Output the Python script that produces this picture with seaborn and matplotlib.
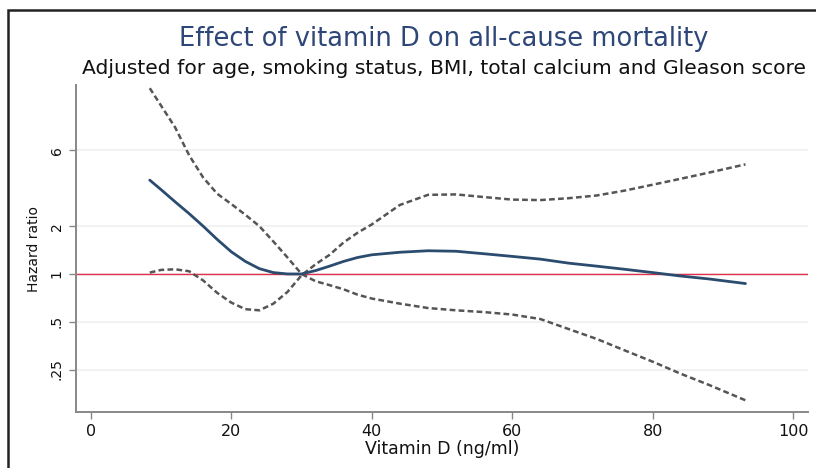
#!/usr/bin/env python3

# Hazard ratio spline for vitamin D with dashed confidence bands, log y axis.

import matplotlib
matplotlib.use('Agg')
import matplotlib.pyplot as plt
from matplotlib.patches import Rectangle
import seaborn as sns

vitamin_d = [8.4, 10, 12, 14, 16, 18, 20, 22, 24, 26, 28, 30, 32, 34, 36,
             38, 40, 44, 48, 52, 56, 60, 64, 68, 72, 76, 80, 84, 88, 93.2]
hazard_ratio = [3.9, 3.4, 2.85, 2.4, 2.0, 1.65, 1.38, 1.2, 1.08, 1.02, 1.0,
                1.0, 1.05, 1.12, 1.2, 1.27, 1.32, 1.37, 1.40, 1.39, 1.34,
                1.29, 1.24, 1.17, 1.12, 1.07, 1.02, 0.97, 0.93, 0.87]
# the two band lines cross at the reference point (30 ng/ml)
band_a = [14.8, 11.5, 8.4, 5.6, 4.05, 3.2, 2.76, 2.36, 2.0, 1.6, 1.27, 1.0,
          0.9, 0.85, 0.8, 0.74, 0.70, 0.65, 0.61, 0.59, 0.575, 0.555, 0.52,
          0.45, 0.39, 0.33, 0.28, 0.235, 0.20, 0.16]
band_b = [1.02, 1.06, 1.07, 1.04, 0.91, 0.76, 0.66, 0.60, 0.59, 0.65, 0.77,
          0.98, 1.15, 1.32, 1.58, 1.82, 2.05, 2.72, 3.15, 3.17, 3.05, 2.94,
          2.92, 3.0, 3.12, 3.35, 3.65, 3.98, 4.35, 4.9]

y_ticks = [0.25, 0.5, 1, 2, 6]
y_ticklabels = ['.25', '.5', '1', '2', '6']
x_ticks = [0, 20, 40, 60, 80, 100]

TITLE = 'Effect of vitamin D on all-cause mortality'
SUBTITLE = 'Adjusted for age, smoking status, BMI, total calcium and Gleason score'


def plot_curves(ax):
    ax.axhline(1, color='#e0304a', linewidth=1.0, zorder=1)
    for band in (band_a, band_b):
        sns.lineplot(x=vitamin_d, y=band, ax=ax, color='#555555',
                     linewidth=1.8, zorder=2).lines[-1].set_dashes((2.3, 1.3))
    sns.lineplot(x=vitamin_d, y=hazard_ratio, ax=ax, color='#2b4c6f',
                 linewidth=2.0, zorder=3)


def style_axes(ax):
    ax.set_yscale('log')
    ax.set_ylim(0.135, 15.5)
    ax.set_xlim(-2.1, 102.1)
    ax.set_yticks(y_ticks)
    ax.set_yticklabels(y_ticklabels, rotation=90, va='center', fontsize=10)
    ax.minorticks_off()
    ax.set_xticks(x_ticks)
    ax.set_xticklabels([str(t) for t in x_ticks], fontsize=11.5)
    ax.yaxis.grid(True, color='#efefef', linewidth=1.1)
    ax.xaxis.grid(False)
    for side in ('top', 'right'):
        ax.spines[side].set_visible(False)
    for side in ('left', 'bottom'):
        ax.spines[side].set_color('#888888')
        ax.spines[side].set_linewidth(1.4)
    ax.tick_params(axis='both', direction='out', length=5, width=1.0,
                   color='#888888', labelcolor='#111111', pad=4,
                   bottom=True, left=True)
    ax.set_xlabel('Vitamin D (ng/ml)', fontsize=12.5, color='#111111',
                  labelpad=0)
    ax.set_ylabel('Hazard ratio', fontsize=10, color='#111111', labelpad=6)


def main():
    sns.set_style('white')
    plt.rcParams['font.family'] = ['DejaVu Sans']
    fig = plt.figure(figsize=(8.16, 4.68), dpi=100)
    ax = fig.add_axes([76 / 816, 1 - 412 / 468, 732 / 816, 327 / 468])
    plot_curves(ax)
    style_axes(ax)
    fig.text(444 / 816, 1 - 39 / 468, TITLE, ha='center', va='center',
             fontsize=18.5, color='#2e4778')
    fig.text(444 / 816, 1 - 69 / 468, SUBTITLE, ha='center', va='center',
             fontsize=14.6, color='#111111')
    fig.add_artist(Rectangle((8 / 816, -0.2), 1.2, 1.2 - 10 / 468,
                             transform=fig.transFigure, fill=False,
                             edgecolor='#222222', linewidth=1.8))
    fig.savefig('out.png', dpi=100)


if __name__ == '__main__':
    main()
